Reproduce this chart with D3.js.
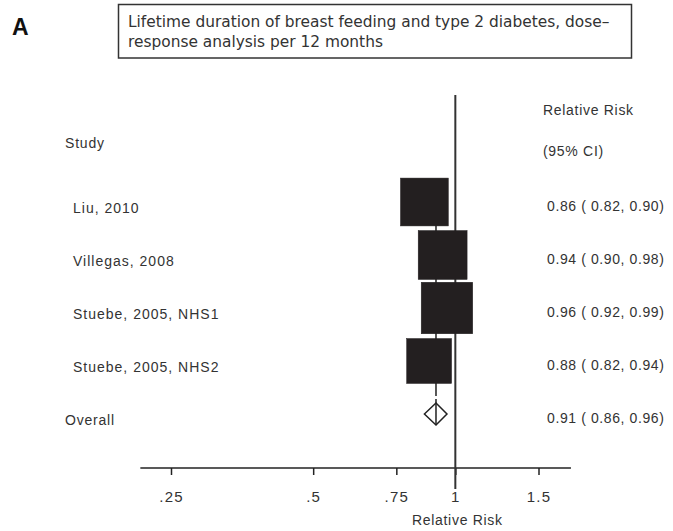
<!DOCTYPE html>
<html><head><meta charset="utf-8">
<script src="https://cdn.jsdelivr.net/npm/d3@7"></script>
<style>
html,body{margin:0;padding:0;background:#fff;}
svg text{font-family:"Liberation Sans",Arial,sans-serif;fill:#333;}
</style></head>
<body><svg id="chart" width="673" height="531"></svg>
<script>
const panelLabel = "A";
const titleLines = ["Lifetime duration of breast feeding and type 2 diabetes, dose\u2013", "response analysis per 12 months"];
const studies = ["Liu, 2010", "Villegas, 2008", "Stuebe, 2005, NHS1", "Stuebe, 2005, NHS2"];
const rr = [0.86, 0.94, 0.96, 0.88];
const lower = [0.82, 0.90, 0.92, 0.82];
const upper = [0.90, 0.98, 0.99, 0.94];
const weights = [24.5, 25.6, 28.4, 21.6];
const overallLabel = "Overall";
const overall = {rr: 0.91, lo: 0.86, hi: 0.96};
const tickValues = [0.25, 0.5, 0.75, 1, 1.5];
const tickLabels = [".25", ".5", ".75", "1", "1.5"];
const xAxisTitle = "Relative Risk";
const colHeaderLeft = "Study";
const colHeaderRight = ["Relative Risk", "(95% CI)"];

const fmt = d3.format(".2f");
const svg = d3.select("#chart");

// panel label
svg.append("text").attr("x", 12).attr("y", 35).text(panelLabel)
  .style("font-size", "23px").style("font-weight", "bold").style("fill", "#111");

// title box
svg.append("rect").attr("x", 118.5).attr("y", 4.5).attr("width", 513).attr("height", 53.5)
  .attr("fill", "#fff").attr("stroke", "#333").attr("stroke-width", 1.5);
const tl = svg.selectAll("text.title").data(titleLines).join("text").attr("class", "title")
  .attr("x", 128).attr("y", (d, i) => 27 + i * 20).text(d => d)
  .style("font-family", "'DejaVu Sans', Verdana, sans-serif").style("font-size", "13px");
const w0 = tl.nodes()[0].getComputedTextLength();
const fs = 13 * 482 / w0;
tl.style("font-size", fs + "px");

// scales
const x = d3.scaleLog().domain([0.25, 1.5]).range([171, 538.5]);
const rows = studies.concat([overallLabel]);
const y = d3.scalePoint().domain(rows).range([202, 414]);
const s = d3.scaleSqrt().domain([0, d3.max(weights)]).range([0, 51.5]);

const axisY = 468;
const axisDomain = [0.2153, 1.757];

// axis
const axis = d3.axisBottom(x).tickValues(tickValues).tickFormat((d, i) => tickLabels[i]).tickSize(7).tickSizeOuter(0);
const gAxis = svg.append("g").attr("transform", `translate(0,${axisY})`).call(axis);
gAxis.select(".domain").remove();
gAxis.append("line").attr("x1", x(axisDomain[0])).attr("x2", x(axisDomain[1]))
  .attr("stroke", "#222").attr("stroke-width", 1.5);
gAxis.selectAll(".tick line").attr("stroke", "#222").attr("stroke-width", 1.5);
gAxis.selectAll(".tick text").attr("y", 23).style("font-size", "15px")
  .style("font-family", "'Liberation Sans',Arial,sans-serif").style("fill", "#333").attr("letter-spacing", "1.2px");
svg.append("text").attr("x", x(1) + 2).attr("y", 525).attr("text-anchor", "middle").text(xAxisTitle)
  .style("font-size", "14px").attr("letter-spacing", "0.7px");

// null line
svg.append("line").attr("x1", x(1)).attr("x2", x(1)).attr("y1", 95).attr("y2", 489)
  .attr("stroke", "#333").attr("stroke-width", 2);

// overall dashed line
const oy0 = y(studies[0]) - 12, oy1 = y(overallLabel) + 11;
const seg1 = (y(overallLabel) - 18) - oy0;
svg.append("line").attr("x1", x(overall.rr)).attr("x2", x(overall.rr)).attr("y1", oy0).attr("y2", oy1)
  .attr("stroke", "#222").attr("stroke-width", 1.5).attr("stroke-dasharray", `${seg1},3,${oy1 - oy0}`);

// CI lines
const data = studies.map((d, i) => ({name: d, rr: rr[i], lo: lower[i], hi: upper[i], w: weights[i]}));
svg.selectAll("line.ci").data(data).join("line").attr("class", "ci")
  .attr("x1", d => x(d.lo)).attr("x2", d => x(d.hi)).attr("y1", d => y(d.name)).attr("y2", d => y(d.name))
  .attr("stroke", "#222").attr("stroke-width", 1.5);

// boxes
svg.selectAll("rect.box").data(data).join("rect").attr("class", "box")
  .attr("x", d => x(d.rr) - s(d.w) / 2).attr("y", d => y(d.name) - s(d.w) / 2)
  .attr("width", d => s(d.w)).attr("height", d => s(d.w))
  .attr("fill", "#231f20").attr("stroke", "#231f20").attr("stroke-width", 0.5);

// diamond
const yo = y(overallLabel), dh = 11;
svg.append("path")
  .attr("d", `M${x(overall.lo)},${yo}L${x(overall.rr)},${yo - dh}L${x(overall.hi)},${yo}L${x(overall.rr)},${yo + dh}Z`)
  .attr("fill", "none").attr("stroke", "#222").attr("stroke-width", 1.5);

// headers
svg.append("text").attr("x", 65).attr("y", 148).text(colHeaderLeft).style("font-size", "14px").attr("letter-spacing", "0.8px");
svg.selectAll("text.rh").data(colHeaderRight).join("text").attr("class", "rh")
  .attr("x", 543).attr("y", (d, i) => 115 + i * 41).text(d => d).style("font-size", "14px").attr("letter-spacing", "0.7px");

// study labels
svg.selectAll("text.st").data(data).join("text").attr("class", "st")
  .attr("x", 73).attr("y", d => y(d.name) + 11).text(d => d.name).style("font-size", "14px").attr("letter-spacing", "1px");
svg.append("text").attr("x", 65).attr("y", yo + 11).text(overallLabel).style("font-size", "14px").attr("letter-spacing", "0.8px");

// estimates
const est = data.map(d => ({name: d.name, t: `${fmt(d.rr)} ( ${fmt(d.lo)}, ${fmt(d.hi)})`}))
  .concat([{name: overallLabel, t: `${fmt(overall.rr)} ( ${fmt(overall.lo)}, ${fmt(overall.hi)})`}]);
svg.selectAll("text.est").data(est).join("text").attr("class", "est")
  .attr("x", 547).attr("y", d => y(d.name) + 9).text(d => d.t).style("font-size", "14px").attr("letter-spacing", "0.6px");
</script></body></html>
